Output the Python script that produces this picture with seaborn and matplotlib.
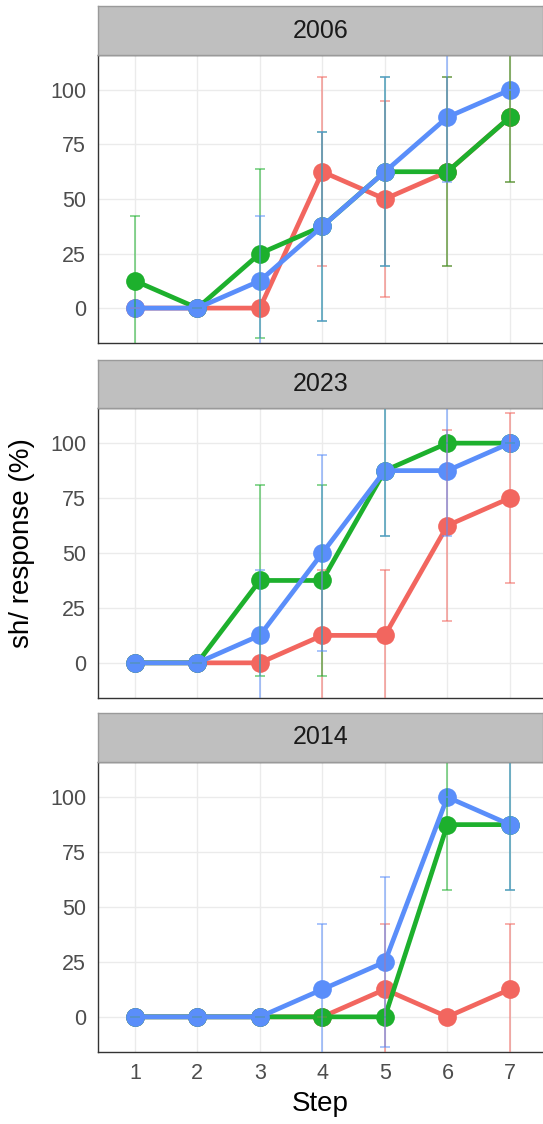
import matplotlib
matplotlib.use("Agg")
import numpy as np
import pandas as pd
import matplotlib.pyplot as plt
import seaborn as sns

# values (percent responding per step)
steps = [1, 2, 3, 4, 5, 6, 7]
panels = ["2006", "2023", "2014"]
groups = ["g1", "g2", "g3"]
colors = ["#F2665F", "#1DB02D", "#5A8EFA"]

pct_2006_g1 = [0, 0, 0, 62.5, 50, 62.5, 87.5]
pct_2006_g2 = [12.5, 0, 25, 37.5, 62.5, 62.5, 87.5]
pct_2006_g3 = [0, 0, 12.5, 37.5, 62.5, 87.5, 100]

pct_2023_g1 = [0, 0, 0, 12.5, 12.5, 62.5, 75]
pct_2023_g2 = [0, 0, 37.5, 37.5, 87.5, 100, 100]
pct_2023_g3 = [0, 0, 12.5, 50, 87.5, 87.5, 100]

pct_2014_g1 = [0, 0, 0, 0, 12.5, 0, 12.5]
pct_2014_g2 = [0, 0, 0, 0, 0, 87.5, 87.5]
pct_2014_g3 = [0, 0, 0, 12.5, 25, 100, 87.5]

# half-widths of the error bars
err_2006_g1 = [0, 0, 0, 43.3, 44.7, 43.3, 29.6]
err_2006_g2 = [29.6, 0, 38.7, 43.3, 43.3, 43.3, 29.6]
err_2006_g3 = [0, 0, 29.6, 43.3, 43.3, 29.6, 0]

err_2023_g1 = [0, 0, 0, 29.6, 29.6, 43.3, 38.7]
err_2023_g2 = [0, 0, 43.3, 43.3, 29.6, 0, 0]
err_2023_g3 = [0, 0, 29.6, 44.7, 29.6, 29.6, 0]

err_2014_g1 = [0, 0, 0, 0, 29.6, 0, 29.6]
err_2014_g2 = [0, 0, 0, 0, 0, 29.6, 29.6]
err_2014_g3 = [0, 0, 0, 29.6, 38.7, 0, 29.6]

yticks = [0, 25, 50, 75, 100]

pct = {
    "2006": [pct_2006_g1, pct_2006_g2, pct_2006_g3],
    "2023": [pct_2023_g1, pct_2023_g2, pct_2023_g3],
    "2014": [pct_2014_g1, pct_2014_g2, pct_2014_g3],
}
err = {
    "2006": [err_2006_g1, err_2006_g2, err_2006_g3],
    "2023": [err_2023_g1, err_2023_g2, err_2023_g3],
    "2014": [err_2014_g1, err_2014_g2, err_2014_g3],
}

rows = []
for p in panels:
    for g, vals, es in zip(groups, pct[p], err[p]):
        for s, v, e in zip(steps, vals, es):
            rows.append({"panel": p, "group": g, "step": s, "pct": v, "err": e})
df = pd.DataFrame(rows)

sns.set_style("white")
plt.rcParams["font.family"] = ["Liberation Sans", "DejaVu Sans"]

W, H = 543, 1124
fig = plt.figure(figsize=(W / 100, H / 100), dpi=100)

left = 98
# (strip top, strip bottom / panel top, panel bottom) in pixels
boxes = [(6, 55, 343), (360, 408, 698), (713, 762, 1052)]

for i, p in enumerate(panels):
    st, pt, pb = boxes[i]
    ax = fig.add_axes([left / W, 1 - pb / H, 1 - left / W, (pb - pt) / H])
    sub = df[df.panel == p]
    sns.lineplot(data=sub, x="step", y="pct", hue="group", hue_order=groups,
                 palette=colors, marker="o", markersize=13.5, markeredgewidth=0,
                 linewidth=3.4, errorbar=None, legend=False, ax=ax)
    for g, c in zip(groups, colors):
        gd = sub[sub.group == g]
        ax.errorbar(gd.step, gd.pct, yerr=gd.err, fmt="none", ecolor=c,
                    alpha=0.65, elinewidth=1.1, capsize=3.5, capthick=1.1, zorder=4)

    ax.set_xlim(0.41, 7.53)
    ax.set_ylim(-16, 116)
    ax.set_xticks(steps)
    ax.set_yticks(yticks)
    ax.grid(True, color="#EBEBEB", linewidth=1.0)
    ax.set_axisbelow(True)
    for side in ["left", "bottom", "top"]:
        ax.spines[side].set_color("#333333")
        ax.spines[side].set_linewidth(1.0)
    ax.spines["right"].set_visible(False)
    ax.tick_params(axis="y", length=5.5, width=1, color="#333333",
                   labelsize=15.5, labelcolor="#4D4D4D", pad=3)
    ax.set_ylabel("")
    ax.set_xlabel("")
    if i < 2:
        ax.tick_params(axis="x", length=0, labelbottom=False)
    else:
        ax.tick_params(axis="x", length=5, width=1, color="#333333",
                       labelsize=15.5, labelcolor="#4D4D4D", pad=3)
        ax.set_xlabel("Step", fontsize=20, color="#000000", labelpad=5)

    sax = fig.add_axes([left / W, 1 - pt / H, 1 - left / W, (pt - st) / H])
    sax.set_facecolor("#BFBFBF")
    sax.set_xticks([])
    sax.set_yticks([])
    for side in sax.spines.values():
        side.set_color("#9A9A9A")
        side.set_linewidth(1.0)
    sax.text(0.5, 0.5, p, transform=sax.transAxes,
             ha="center", va="center", fontsize=18, color="#1A1A1A")

fig.text(22 / W, 1 - 543 / H, "sh/ response (%)", rotation=90, ha="center",
         va="center", fontsize=20, color="#000000")

fig.savefig("out.png", dpi=100)
plt.close(fig)
